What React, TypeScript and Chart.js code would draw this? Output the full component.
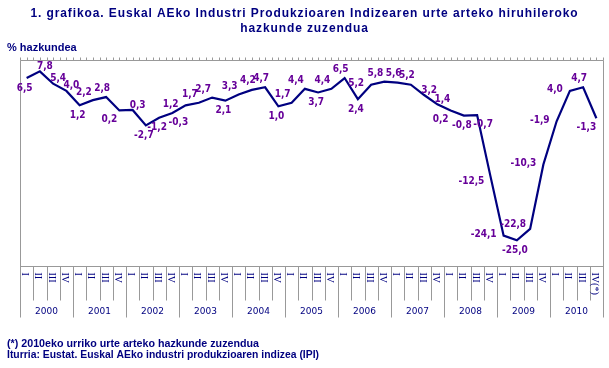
import React, { useEffect, useRef } from "react";
import { Chart, registerables } from "chart.js";

Chart.register(...registerables);

const titleLines = [
  "1. grafikoa. Euskal AEko Industri Produkzioaren Indizearen urte arteko hiruhileroko",
  "hazkunde zuzendua",
];
const yAxisTitle = "% hazkundea";
const footnotes = [
  "(*) 2010eko urriko urte arteko hazkunde zuzendua",
  "Iturria: Eustat. Euskal AEko industri produkzioaren indizea (IPI)",
];
const years = ["2000", "2001", "2002", "2003", "2004", "2005", "2006", "2007", "2008", "2009", "2010"];
const quarters = ["I", "II", "III", "IV"];
const lastQuarterLabel = "IV(*)";

const growth = [
  6.5, 7.8, 5.4, 4.0,
  1.2, 2.2, 2.8, 0.2,
  0.3, -2.7, -1.2, -0.3,
  1.2, 1.7, 2.7, 2.1,
  3.3, 4.2, 4.7, 1.0,
  1.7, 4.4, 3.7, 4.4,
  6.5, 2.4, 5.2, 5.8,
  5.6, 5.2, 3.2, 1.4,
  0.2, -0.8, -0.7, -12.5,
  -24.1, -25.0, -22.8, -10.3,
  -1.9, 4.0, 4.7, -1.3,
];

// label placement codes relative to each point
const labelPlacement = [
  "b", "ar", "ar", "ar",
  "b", "al", "a", "bl",
  "ar", "b", "b", "br",
  "l", "al", "al", "b",
  "al", "a", "a", "b",
  "al", "al", "b", "al",
  "a", "b", "l", "al",
  "a", "a", "ar", "ar",
  "bl", "b", "br", "lb",
  "l", "b", "la", "l",
  "l", "l", "a", "bl",
];

const categories = years.flatMap((y) => quarters.map((q) => `${y} ${q}`));
const quarterTickLabels = years.flatMap(() => quarters).map((q, i, arr) => (i === arr.length - 1 ? lastQuarterLabel : q));

const NAVY = "#000080";
const PURPLE = "#660099";
const GRID = "#999999";

const OFFS: Record<string, [number, number, CanvasTextAlign]> = {
  a: [-4, -9, "center"],
  al: [-9, -8, "center"],
  ar: [5, -5, "center"],
  b: [-2, 10, "center"],
  bl: [-10, 9, "center"],
  br: [6, 9, "center"],
  l: [-7, -1, "right"],
  la: [-4, -5, "right"],
  lb: [-6, 6, "right"],
};

const fmt = (v: number) => v.toFixed(1).replace(".", ",");

const decorPlugin = {
  id: "decor",
  beforeDraw(chart: any) {
    const { ctx, width, height } = chart;
    ctx.save();
    ctx.fillStyle = "#ffffff";
    ctx.fillRect(0, 0, width, height);
    ctx.restore();
  },
  beforeDatasetsDraw(chart: any) {
    const { ctx, chartArea: a, scales } = chart;
    const xs = scales.x;
    const n = growth.length;
    const w = (xs.getPixelForValue(n - 1) - xs.getPixelForValue(0)) / (n - 1);
    const left = xs.getPixelForValue(0) - w / 2;
    const L = Math.round(left) + 0.5;
    const R = Math.round(left + n * w) + 0.5;
    const T = Math.round(a.top) + 0.5;
    const B = Math.round(a.bottom) + 0.5;
    ctx.save();
    ctx.strokeStyle = GRID;
    ctx.lineWidth = 1;
    ctx.beginPath();
    ctx.moveTo(L, T);
    ctx.lineTo(R, T);
    for (let k = 0; k <= 2 * n; k++) {
      const px = Math.round(left + (k * w) / 2) + 0.5;
      ctx.moveTo(px, T - 3);
      ctx.lineTo(px, T);
    }
    ctx.moveTo(L, B);
    ctx.lineTo(R, B);
    ctx.moveTo(L, T);
    ctx.lineTo(L, B + 51);
    ctx.moveTo(R, T);
    ctx.lineTo(R, B + 51);
    for (let i = 1; i < n; i++) {
      const px = Math.round(xs.getPixelForValue(i) - w / 2) + 0.5;
      ctx.moveTo(px, B);
      ctx.lineTo(px, i % 4 === 0 ? B + 51 : B + 34);
    }
    ctx.stroke();

    // quarter labels (rotated clockwise)
    ctx.fillStyle = NAVY;
    ctx.font = "10px 'Liberation Serif'";
    ctx.textAlign = "left";
    ctx.textBaseline = "middle";
    for (let i = 0; i < n; i++) {
      const cx = xs.getPixelForValue(i) - 2;
      ctx.save();
      ctx.translate(cx, B + 6);
      ctx.rotate(Math.PI / 2);
      ctx.fillText(quarterTickLabels[i], 0, 0);
      ctx.restore();
    }
    // year labels
    ctx.font = "9px 'DejaVu Sans'";
    ctx.textAlign = "center";
    years.forEach((y, j) => {
      const cx = (xs.getPixelForValue(4 * j) + xs.getPixelForValue(4 * j + 3)) / 2;
      ctx.fillText(y, cx, B + 45.5);
    });
    ctx.restore();
  },
  afterDatasetsDraw(chart: any) {
    const { ctx, scales } = chart;
    const xs = scales.x;
    const ys = scales.y;
    ctx.save();
    ctx.fillStyle = PURPLE;
    ctx.font = "bold 10px 'DejaVu Sans'";
    try { (ctx as any).fontStretch = "condensed"; } catch (e) {}
    ctx.textBaseline = "middle";
    growth.forEach((v, i) => {
      const px = xs.getPixelForValue(i);
      const py = ys.getPixelForValue(v);
      const [dx, dy, align] = OFFS[labelPlacement[i]] || OFFS.a;
      ctx.textAlign = align;
      ctx.fillText(fmt(v), px + dx, py + dy);
    });
    ctx.restore();
  },
  afterDraw(chart: any) {
    const { ctx, width } = chart;
    ctx.save();
    ctx.fillStyle = NAVY;
    ctx.textBaseline = "middle";
    ctx.textAlign = "center";
    ctx.font = "bold 12px 'Liberation Sans'";
    try { (ctx as any).letterSpacing = "0.9px"; } catch (e) {}
    ctx.fillText(titleLines[0], width / 2, 13.5, 548);
    ctx.fillText(titleLines[1], width / 2, 29, 548);
    try { (ctx as any).letterSpacing = "0px"; } catch (e) {}
    ctx.textAlign = "left";
    ctx.font = "bold 11px 'Liberation Sans'";
    ctx.fillText(yAxisTitle, 7, 47.5, 73);
    ctx.fillText(footnotes[0], 7, 343.5, 252);
    ctx.fillText(footnotes[1], 7, 354.5, 312);
    ctx.restore();
  },
};

export default function App() {
  const ref = useRef<HTMLCanvasElement | null>(null);
  useEffect(() => {
    if (!ref.current) return;
    const chart = new Chart(ref.current, {
      type: "line",
      data: {
        labels: categories,
        datasets: [
          {
            data: growth,
            borderColor: NAVY,
            borderWidth: 2.2,
            pointRadius: 0,
            tension: 0,
            fill: false,
          },
        ],
      },
      options: {
        responsive: false,
        animation: false,
        devicePixelRatio: 1,
        events: [],
        layout: { padding: { left: 20, right: 6, top: 60, bottom: 102 } },
        scales: {
          x: { display: false, offset: true },
          y: { display: false, min: -30, max: 10 },
        },
        plugins: {
          legend: { display: false },
          tooltip: { enabled: false },
          title: { display: false },
        },
      },
      plugins: [decorPlugin],
    } as any);
    return () => chart.destroy();
  }, []);
  return (
    <div style={{ position: "absolute", left: 0, top: 0, width: 609, height: 368 }}>
      <canvas ref={ref} width={609} height={368} style={{ display: "block", width: 609, height: 368 }} />
    </div>
  );
}
